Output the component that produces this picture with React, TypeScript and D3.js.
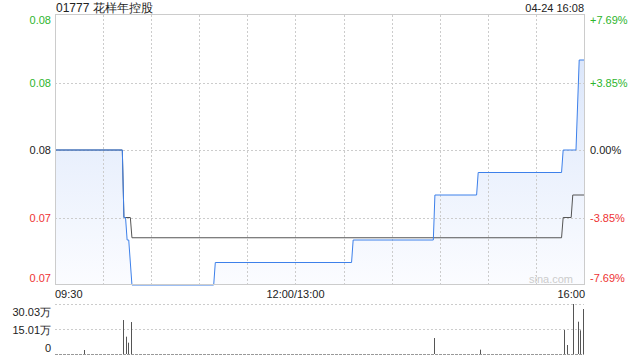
import React from "react";
import * as d3 from "d3";

const TITLE = "01777 花样年控股";
const STAMP = "04-24 16:08";
const PREV_CLOSE = 0.078;
const Y_TICKS = [0.084, 0.081, 0.078, 0.075, 0.072];
const PCT_LABELS = ["+7.69%", "+3.85%", "0.00%", "-3.85%", "-7.69%"];
const X_LABELS = ["09:30", "12:00/13:00", "16:00"];

const PRICE_TIMES = ["09:30", "10:12", "10:13", "10:14", "10:15", "10:16", "10:18", "11:09", "11:10", "13:35", "13:36", "14:26", "14:27", "14:53", "14:54", "15:46", "15:47", "15:55", "15:57", "16:00"];
const PRICE_VALUES = [0.078, 0.078, 0.075, 0.075, 0.074, 0.074, 0.072, 0.072, 0.073, 0.073, 0.074, 0.074, 0.076, 0.076, 0.077, 0.077, 0.078, 0.078, 0.082, 0.082];

const AVG_TIMES = ["09:30", "10:12", "10:13", "10:17", "10:18", "15:46", "15:47", "15:52", "15:53", "16:00"];
const AVG_VALUES = [0.078, 0.078, 0.075, 0.075, 0.0741, 0.0741, 0.075, 0.075, 0.076, 0.076];

const VOL_TIMES = ["09:49", "10:13", "10:15", "10:16", "10:18", "14:27", "14:56", "15:48", "15:50", "15:54", "15:57", "15:58", "16:00"];
const VOL_VALUES = [2.4, 20.4, 10.4, 6.8, 19.2, 9.6, 2.6, 14.4, 5.4, 30.03, 19.4, 14.2, 27];
const VOL_TICKS = [30.03, 15.01, 0];
const VOL_LABELS = ["30.03万", "15.01万", "0"];

const GREEN = "#2db52d";
const RED = "#ee3333";
const FONT = "'Liberation Sans', Arial, sans-serif";

function toMin(s: string): number {
  const [h, m] = s.split(":").map(Number);
  const v = h * 60 + m;
  return v >= 780 ? 150 + (v - 780) : v - 570;
}

export default function App() {
  const L = 55, R = 584, T = 15, B = 285;
  const VT = 304, VB = 354;
  const x = d3.scaleLinear().domain([0, 330]).range([L, R]);
  const y = d3.scaleLinear().domain([0.072, 0.084]).range([B, T]);
  const yv = d3.scaleLinear().domain([0, 30.03]).range([VB, VT]);

  const price = PRICE_TIMES.map((t, i) => ({ t: toMin(t), v: PRICE_VALUES[i] }));
  const avg = AVG_TIMES.map((t, i) => ({ t: toMin(t), v: AVG_VALUES[i] }));

  const line = d3.line<{ t: number; v: number }>().x(d => x(d.t)).y(d => y(d.v));
  const area = d3.area<{ t: number; v: number }>().x(d => x(d.t)).y0(B).y1(d => y(d.v));

  const vGrid = d3.range(30, 330, 30);
  const colorFor = (v: number) => (Math.abs(v - PREV_CLOSE) < 1e-9 ? "#222" : v > PREV_CLOSE ? GREEN : RED);
  const labelY = (v: number) => {
    const yy = y(v);
    if (yy <= T + 1) return yy + 9;
    if (yy >= B - 1) return yy - 3;
    return yy + 4;
  };
  const volLabelY = [316, 334, 352];

  return (
    <svg width={640} height={360} style={{ position: "absolute", left: 0, top: 0, fontFamily: FONT }}>
      <defs>
        <linearGradient id="fillg" x1="0" y1="0" x2="0" y2="1">
          <stop offset="0" stopColor="#dce7fb" />
          <stop offset="1" stopColor="#fbfcff" />
        </linearGradient>
      </defs>
      <rect width={640} height={360} fill="#fff" />
      <text x={56} y={12} fontSize={12} fill="#222">{TITLE}</text>
      <text x={584} y={12} fontSize={11} fill="#222" textAnchor="end">{STAMP}</text>

      <path d={area(price) || ""} fill="url(#fillg)" />

      {vGrid.map(g => (
        <line key={g} x1={Math.round(x(g)) + 0.5} x2={Math.round(x(g)) + 0.5} y1={T} y2={B} stroke="#ccc" strokeDasharray="2,2" />
      ))}
      {Y_TICKS.slice(1, 4).map(v => (
        <line key={v} x1={L} x2={R} y1={Math.round(y(v)) + 0.5} y2={Math.round(y(v)) + 0.5} stroke="#ccc" strokeDasharray="2,2" />
      ))}

      <path d={line(avg) || ""} fill="none" stroke="#555" strokeWidth={1} />
      <path d={line(price) || ""} fill="none" stroke="#3d80ea" strokeWidth={1} />

      <rect x={L + 0.5} y={T - 0.5} width={R - L} height={B - T} fill="none" stroke="#ccc" />

      <text x={573} y={283} fontSize={11} fill="#ccc" textAnchor="end">sina.com</text>

      {Y_TICKS.map(v => (
        <text key={"l" + v} x={51} y={labelY(v)} fontSize={11} fill={colorFor(v)} textAnchor="end">{v.toFixed(2)}</text>
      ))}
      {Y_TICKS.map((v, i) => (
        <text key={"r" + v} x={590} y={labelY(v)} fontSize={11} fill={colorFor(v)}>{PCT_LABELS[i]}</text>
      ))}

      <text x={55} y={298} fontSize={11} fill="#222">{X_LABELS[0]}</text>
      <text x={x(150)} y={298} fontSize={11} fill="#222" textAnchor="middle">{X_LABELS[1]}</text>
      <text x={585} y={298} fontSize={11} fill="#222" textAnchor="end">{X_LABELS[2]}</text>

      {VOL_TICKS.map((v, i) => (
        <line key={"vg" + v} x1={L} x2={R} y1={Math.round(yv(v)) + 0.5} y2={Math.round(yv(v)) + 0.5}
          stroke={i === 2 ? "#999" : "#ccc"} strokeDasharray={i === 2 ? "3,1" : "2,2"} />
      ))}
      {VOL_TIMES.map((t, i) => {
        const xx = Math.round(x(toMin(t))) - 0.5;
        return <line key={"vb" + t} x1={xx} x2={xx} y1={VB} y2={yv(VOL_VALUES[i])} stroke="#555" strokeWidth={1} />;
      })}
      {VOL_LABELS.map((s, i) => (
        <text key={"vl" + s} x={51} y={volLabelY[i]} fontSize={11} fill="#222" textAnchor="end">{s}</text>
      ))}
    </svg>
  );
}
